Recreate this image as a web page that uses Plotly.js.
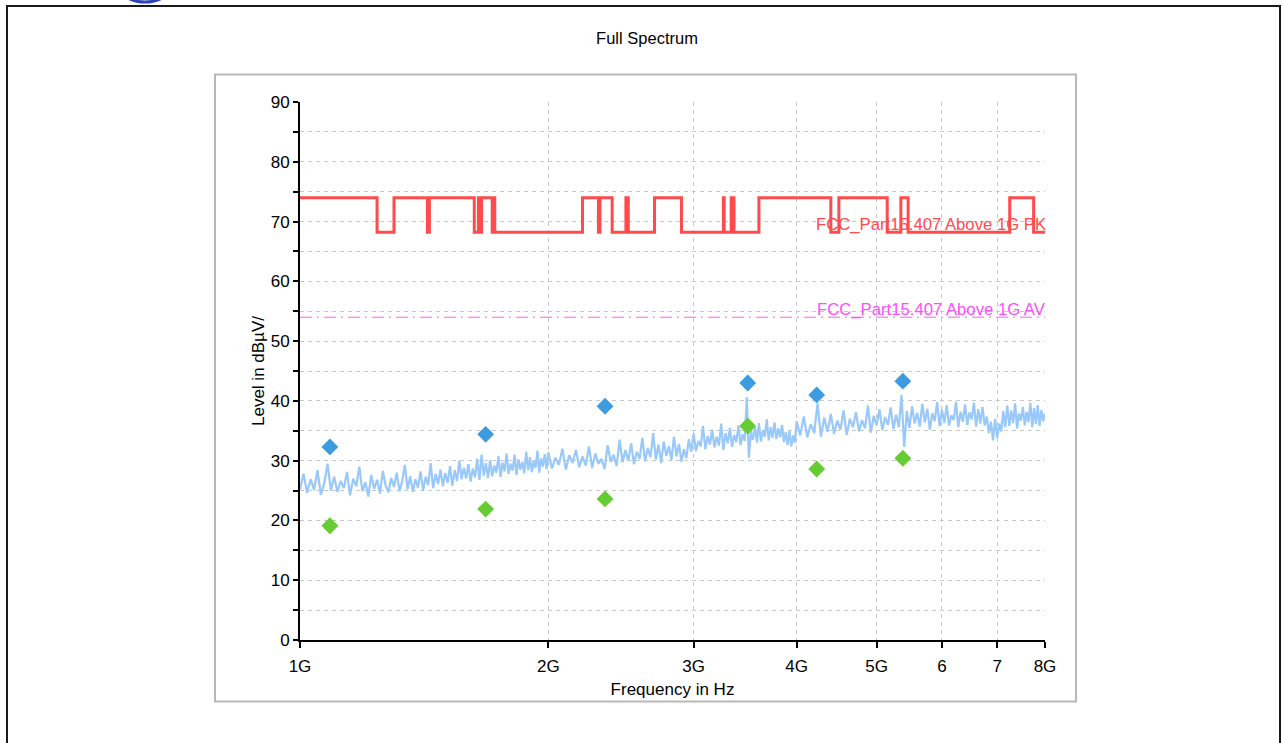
<!DOCTYPE html>
<html><head><meta charset="utf-8">
<script src="https://cdn.plot.ly/plotly-3.0.1.min.js"></script>
<style>html,body{margin:0;padding:0;background:#fff;}#chart{width:1282px;height:743px;}</style>
</head><body><div id="chart"></div>
<script>
// ---------- DATA ----------
const TITLE = 'Full Spectrum';
const X_TICK_VALS = [1, 2, 3, 4, 5, 6, 7, 8];
const X_TICK_TEXT = ['1G', '2G', '3G', '4G', '5G', '6', '7', '8G'];

// Measured spectrum (sweep frequencies in MHz, level in dBµV)
const SWEEP_MHZ = [
 1000,1010,1020,1030,1040,1050,1060,1070,1080,1090,
 1100,1110,1120,1130,1140,1150,1160,1170,1180,1190,
 1200,1210,1220,1230,1240,1250,1260,1270,1280,1290,
 1300,1310,1320,1330,1340,1350,1360,1370,1380,1390,
 1400,1410,1420,1430,1440,1450,1460,1470,1480,1490,
 1500,1510,1520,1530,1540,1550,1560,1570,1580,1590,
 1600,1610,1620,1630,1640,1650,1660,1670,1680,1690,
 1700,1710,1720,1730,1740,1750,1760,1770,1780,1790,
 1800,1810,1820,1830,1840,1850,1860,1870,1880,1890,
 1900,1910,1920,1930,1940,1950,1960,1970,1980,1990,
 2000,2020,2040,2060,2080,2100,2120,2140,2160,2180,
 2200,2220,2240,2260,2280,2300,2320,2340,2360,2380,
 2400,2420,2440,2460,2480,2500,2520,2540,2560,2580,
 2600,2620,2640,2660,2680,2700,2720,2740,2760,2780,
 2800,2820,2840,2860,2880,2900,2920,2940,2960,2980,
 3000,3020,3040,3060,3080,3100,3120,3140,3160,3180,
 3200,3220,3240,3260,3280,3300,3320,3340,3360,3380,
 3400,3420,3440,3460,3480,3500,3520,3540,3560,3580,
 3600,3620,3640,3660,3680,3700,3720,3740,3760,3780,
 3800,3820,3840,3860,3880,3900,3920,3940,3960,3980,
 4000,4040,4080,4120,4160,4200,4240,4280,4320,4360,
 4400,4440,4480,4520,4560,4600,4640,4680,4720,4760,
 4800,4840,4880,4920,4960,5000,5040,5080,5120,5160,
 5200,5240,5280,5320,5360,5400,5440,5480,5520,5560,
 5600,5640,5680,5720,5760,5800,5840,5880,5920,5960,
 6000,6040,6080,6120,6160,6200,6240,6280,6320,6360,
 6400,6440,6480,6520,6560,6600,6640,6680,6720,6760,
 6800,6840,6880,6920,6960,7000,7040,7080,7120,7160,
 7200,7240,7280,7320,7360,7400,7440,7480,7520,7560,
 7600,7640,7680,7720,7760,7800,7840,7880,7920,7960,
 8000
];
const SWEEP_LEVEL = [
 25.2,27.8,24.6,26.9,25.1,28.4,24.3,26.2,29.5,25.0,
 27.3,24.8,26.6,25.4,28.1,24.2,27.0,25.7,29.0,24.9,
 26.4,24.0,27.6,25.3,26.8,24.5,28.3,25.8,24.7,27.1,
 25.6,28.0,24.9,26.5,29.3,25.2,27.4,24.8,26.9,25.5,
 28.2,25.0,27.3,25.9,29.6,25.4,27.8,26.1,28.5,25.7,
 27.9,26.3,29.1,25.8,28.4,26.6,30.0,26.9,28.8,27.0,
 29.4,26.5,28.7,27.2,30.3,26.8,31.0,27.5,29.6,27.1,
 30.1,27.4,29.2,28.0,30.8,27.3,29.7,28.2,31.2,27.8,
 29.5,28.3,31.0,27.6,30.2,28.5,29.8,27.9,31.5,28.4,
 30.6,28.1,29.9,28.8,31.7,28.0,30.4,29.0,31.1,28.6,
 31.4,28.7,30.5,29.3,32.0,28.5,30.9,29.6,31.8,28.9,
 30.7,29.2,32.4,28.8,31.2,29.5,30.3,28.6,32.6,29.8,
 31.0,29.1,33.5,29.7,31.8,30.0,32.9,29.4,31.5,30.3,
 33.8,29.9,32.1,30.6,34.6,30.2,32.7,29.6,33.2,30.8,
 32.4,30.1,34.0,30.7,32.8,29.8,31.9,30.4,33.6,31.5,
 34.5,31.6,33.3,32.4,35.8,31.9,34.1,32.7,35.2,32.2,
 34.0,32.5,36.2,31.8,34.6,32.9,35.5,32.3,34.3,33.1,
 35.9,32.6,34.4,33.3,40.6,30.5,34.9,33.5,35.7,33.0,
 36.3,33.2,35.1,34.0,36.9,33.4,35.6,33.8,36.4,33.6,
 35.4,33.9,36.0,33.1,34.8,32.6,35.0,32.4,34.2,33.0,
 36.6,34.2,37.4,33.9,36.1,34.6,39.6,34.0,37.2,34.8,
 37.8,34.5,36.7,35.2,38.4,34.3,37.0,35.6,38.1,34.9,
 36.8,35.4,39.2,34.7,37.5,35.9,38.6,35.1,37.3,36.0,
 38.9,35.3,37.7,35.6,41.0,32.3,38.3,35.5,39.1,36.2,
 38.0,35.7,39.5,36.4,38.7,35.2,37.9,36.6,39.8,35.8,
 38.5,36.3,39.3,35.9,37.6,36.8,39.9,35.6,38.2,36.5,
 39.4,36.0,38.1,36.9,39.7,35.7,38.6,36.2,39.0,35.9,
 37.4,34.6,36.5,33.4,37.0,33.8,36.2,34.9,38.3,35.6,
 39.2,35.8,38.4,36.3,39.6,35.4,37.9,36.7,39.0,35.9,
 38.2,36.4,39.7,35.6,38.8,36.1,39.3,35.8,38.5,36.6,
 37.9
];

// Peak limit line (GHz breakpoints, dBµV) – FCC Part15.407 Above 1G PK
const PK_LIMIT_GHZ = [1.0,1.24,1.3,1.427,1.435,1.6265,1.6455,1.6465,1.66,1.71,1.7188,1.7222,
  2.2,2.3,2.31,2.39,2.4835,2.5,2.69,2.9,3.26,3.267,3.332,3.339,3.3458,3.358,
  3.6,4.4,4.5,5.15,5.35,5.46,7.25,7.75,8.0];
const PK_LIMIT_LEVEL = [74,68.2,74,68.2,74,68.2,74,68.2,74,68.2,74,68.2,
  74,68.2,74,68.2,74,68.2,74,68.2,74,68.2,74,68.2,74,68.2,
  74,68.2,74,68.2,74,68.2,74,68.2,68.2];
const PK_LIMIT_NAME = 'FCC_Part15.407 Above 1G PK';

// Average limit line
const AV_LIMIT_GHZ = [1.0, 8.0];
const AV_LIMIT_LEVEL = [54, 54];
const AV_LIMIT_NAME = 'FCC_Part15.407 Above 1G AV';

// Final measurement points
const FINAL_GHZ = [1.087, 1.679, 2.343, 3.489, 4.230, 5.380];
const FINAL_PEAK = [32.3, 34.4, 39.1, 43.0, 41.0, 43.3];
const FINAL_AVG = [19.1, 21.9, 23.6, 35.8, 28.6, 30.4];

// ---------- CHART ----------
const FONT = 'Liberation Sans, Arial, Helvetica, sans-serif';
const W = 1282, H = 743, ML = 300, MR = 237, MT = 102, MB = 103;
const pxX = x => (x - ML) / (W - ML - MR);
const pxY = y => (H - MB - y) / (H - MT - MB);

const traces = [
  {x: SWEEP_MHZ.map(f => f / 1000), y: SWEEP_LEVEL, type: 'scatter', mode: 'lines',
   line: {color: '#99c9fa', width: 2.2}, name: 'Spectrum', hoverinfo: 'x+y'},
  {x: AV_LIMIT_GHZ, y: AV_LIMIT_LEVEL, type: 'scatter', mode: 'lines',
   line: {color: '#ff5cff', width: 1, dash: '12px,5px,2px,5px'}, name: AV_LIMIT_NAME},
  {x: PK_LIMIT_GHZ, y: PK_LIMIT_LEVEL, type: 'scatter', mode: 'lines',
   line: {color: '#ff4b4b', width: 3, shape: 'hv'}, name: PK_LIMIT_NAME},
  {x: FINAL_GHZ, y: FINAL_PEAK, type: 'scatter', mode: 'markers',
   marker: {symbol: 'diamond', size: 13, color: '#3d9be0'}, name: 'Peak'},
  {x: FINAL_GHZ, y: FINAL_AVG, type: 'scatter', mode: 'markers',
   marker: {symbol: 'diamond', size: 13, color: '#66cc33'}, name: 'Average'}
];

const gridStyle = {gridcolor: '#c8c8c8', gridwidth: 1, griddash: '4px,4px'};

const layout = {
  width: W, height: H,
  margin: {l: ML, r: MR, t: MT, b: MB, pad: 0},
  paper_bgcolor: '#ffffff', plot_bgcolor: '#ffffff',
  showlegend: false,
  font: {family: FONT, color: '#000', size: 16},
  title: {text: TITLE, font: {family: FONT, size: 16.5, color: '#000'},
          x: 647 / W, xref: 'container', xanchor: 'center',
          y: 1 - 38 / H, yref: 'container', yanchor: 'middle'},
  xaxis: Object.assign({
    type: 'log', range: [0, Math.log10(8)], autorange: false,
    tickmode: 'array', tickvals: X_TICK_VALS, ticktext: X_TICK_TEXT,
    ticks: 'outside', ticklen: 6, tickwidth: 2, tickcolor: '#000',
    ticklabelstandoff: 4,
    showline: true, linecolor: '#000', linewidth: 2,
    zeroline: false, showgrid: true,
    tickfont: {family: FONT, size: 17, color: '#000'},
    title: {text: 'Frequency in Hz', font: {family: FONT, size: 17, color: '#000'}, standoff: 8}
  }, gridStyle),
  xaxis2: {
    type: 'log', range: [0, Math.log10(8)], autorange: false, overlaying: 'x', anchor: 'y',
    tickmode: 'array', tickvals: X_TICK_VALS, ticks: 'inside', ticklen: 7, tickwidth: 2, tickcolor: '#000',
    showticklabels: false, showgrid: false, showline: false, zeroline: false
  },
  yaxis: Object.assign({
    range: [0, 90], autorange: false, dtick: 10, tick0: 0,
    ticks: 'outside', ticklen: 5, tickwidth: 2, tickcolor: '#000',
    minor: Object.assign({dtick: 5, ticks: 'outside', ticklen: 5, tickwidth: 2, tickcolor: '#000', showgrid: true}, gridStyle),
    showline: true, linecolor: '#000', linewidth: 2,
    zeroline: false, showgrid: true,
    tickfont: {family: FONT, size: 17, color: '#000'},
    title: {text: 'Level in dBµV/', font: {family: FONT, size: 17, color: '#000'}, standoff: 2}
  }, gridStyle),
  yaxis2: {
    range: [0, 90], autorange: false, dtick: 10, tick0: 0, overlaying: 'y', anchor: 'x', side: 'left',
    ticks: 'inside', ticklen: 6, tickwidth: 2, tickcolor: '#000',
    minor: {dtick: 5, ticks: 'inside', ticklen: 6, tickwidth: 2, tickcolor: '#000', showgrid: false},
    showticklabels: false, showgrid: false, showline: false, zeroline: false
  },
  annotations: [
    {x: Math.log10(8), y: 68.2, xref: 'x', yref: 'y', text: PK_LIMIT_NAME, showarrow: false,
     xanchor: 'right', yanchor: 'bottom', xshift: 3, yshift: -4,
     font: {family: FONT, size: 16.7, color: '#ff4b4b'}},
    {x: Math.log10(8), y: 54, xref: 'x', yref: 'y', text: AV_LIMIT_NAME, showarrow: false,
     xanchor: 'right', yanchor: 'bottom', xshift: 3, yshift: -4,
     font: {family: FONT, size: 16.7, color: '#ff4dff'}}
  ],
  shapes: [
    {type: 'rect', xref: 'paper', yref: 'paper', layer: 'below',
     x0: pxX(215), x1: pxX(1076), y0: pxY(701.5), y1: pxY(74.5),
     line: {color: '#b8b8b8', width: 2}, fillcolor: 'rgba(0,0,0,0)'},
    {type: 'rect', xref: 'paper', yref: 'paper', layer: 'above',
     x0: pxX(7), x1: pxX(1280), y0: pxY(770), y1: pxY(6),
     line: {color: '#1a1a1a', width: 2}, fillcolor: 'rgba(0,0,0,0)'},
    {type: 'circle', xref: 'paper', yref: 'paper', layer: 'above',
     x0: pxX(124), x1: pxX(166), y0: pxY(2), y1: pxY(-18),
     line: {color: '#2c43b8', width: 3}, fillcolor: 'rgba(0,0,0,0)'}
  ]
};

Plotly.newPlot('chart', traces, layout, {displayModeBar: false, staticPlot: true});
</script>
</body></html>
